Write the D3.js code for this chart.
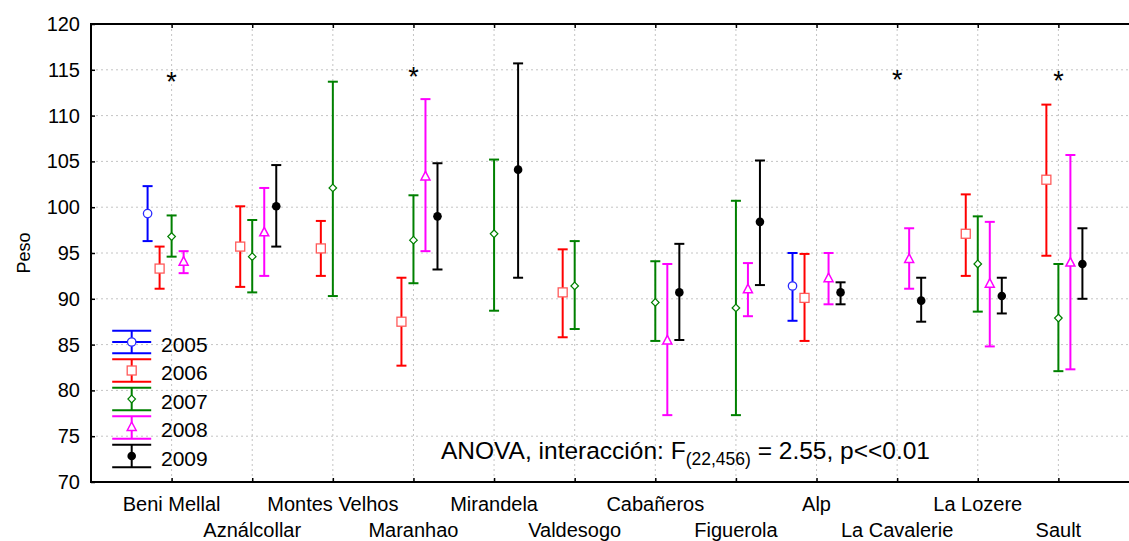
<!DOCTYPE html>
<html>
<head>
<meta charset="utf-8">
<script src="https://cdn.jsdelivr.net/npm/d3@7"></script>
<style>
  html, body { margin: 0; padding: 0; background: #fff; }
  svg { display: block; font-family: "Liberation Sans", Arial, sans-serif; }
</style>
</head>
<body>
<svg id="chart" width="1129" height="541"></svg>
<script>
// ---------- data ----------
const categories = ["Beni Mellal","Aználcollar","Montes Velhos","Maranhao","Mirandela","Valdesogo",
                    "Cabañeros","Figuerola","Alp","La Cavalerie","La Lozere","Sault"];
const years = ["2005","2006","2007","2008","2009"];
const yTicks = [70,75,80,85,90,95,100,105,110,115,120];
// [mean, lower, upper] per category, null where no data
const y2005 = [[99.3,96.3,102.3],null,null,null,null,null,null,null,[91.4,87.6,95.0],null,null,null];
const y2006 = [[93.3,91.1,95.7],[95.7,91.3,100.1],[95.5,92.5,98.5],[87.5,82.7,92.3],null,[90.7,85.8,95.4],
               null,null,[90.1,85.4,94.9],null,[97.1,92.5,101.4],[103.0,94.7,111.2]];
const y2007 = [[96.8,94.6,99.1],[94.6,90.7,98.6],[102.1,90.3,113.7],[96.4,91.7,101.3],[97.1,88.7,105.2],[91.4,86.7,96.3],
               [89.6,85.4,94.1],[89.0,77.3,100.7],null,null,[93.8,88.6,99.0],[87.9,82.1,93.8]];
const y2008 = [[94.0,92.8,95.2],[97.2,92.5,102.1],null,[103.3,95.2,111.8],null,null,
               [85.4,77.3,93.8],[91.0,88.1,93.9],[92.2,89.4,95.0],[94.3,91.1,97.7],[91.6,84.8,98.4],[93.9,82.3,105.7]];
const y2009 = [null,[100.1,95.7,104.6],null,[99.0,93.2,104.8],[104.1,92.3,115.7],null,
               [90.7,85.5,96.0],[98.4,91.5,105.1],[90.7,89.4,91.8],[89.8,87.5,92.3],[90.3,88.4,92.3],[93.8,90.0,97.7]];
const seriesData = [y2005, y2006, y2007, y2008, y2009];
const starCats = [0, 3, 9, 11];
const starVals = [114.3, 114.9, 114.5, 114.4];
const annotation = ["ANOVA, interacción: F", "(22,456)", " = 2.55, p<<0.01"];

// ---------- styles ----------
const colors = ["#0000ff","#ff0000","#008000","#ff00ff","#000000"];
const markerStroke = ["#2a2aff","#ff5a5a","#008000","#ff00ff","#000000"];

const svg = d3.select("#chart");
const W = 1129, H = 541;
svg.append("rect").attr("width", W).attr("height", H).attr("fill", "#fff");

const x = d3.scaleLinear().domain([0, 13]).range([91, 1139]);
const y = d3.scaleLinear().domain([70, 120]).range([482, 24]);
const offset = 0.149;

// grid
const grid = svg.append("g").attr("stroke", "#c4c4c4").attr("stroke-width", 1).attr("stroke-dasharray", "2,3");
grid.selectAll("line.h").data(yTicks.slice(1, -1)).join("line")
  .attr("x1", 91).attr("x2", W).attr("y1", d => y(d)).attr("y2", d => y(d));
grid.selectAll("line.v").data(categories).join("line")
  .attr("x1", (d, i) => x(i + 1)).attr("x2", (d, i) => x(i + 1)).attr("y1", 24).attr("y2", 482);

// axes
const yAxis = d3.axisLeft(y).tickValues(yTicks).tickSize(-4).tickPadding(11);
const gy = svg.append("g").attr("transform", "translate(91,0)").call(yAxis);
gy.select(".domain").remove();
gy.selectAll(".tick line").attr("stroke", "#000").attr("stroke-width", 1.5);
gy.selectAll("text").attr("font-size", 20).attr("fill", "#000").attr("font-family", "Liberation Sans, Arial, sans-serif");

const xAxisB = d3.axisBottom(x).tickValues(d3.range(1, 13)).tickSize(-4).tickFormat("");
const gxb = svg.append("g").attr("transform", "translate(0,482)").call(xAxisB);
gxb.select(".domain").remove();
gxb.selectAll(".tick line").attr("stroke", "#000").attr("stroke-width", 1.5);
const xAxisT = d3.axisTop(x).tickValues(d3.range(1, 13)).tickSize(-4).tickFormat("");
const gxt = svg.append("g").attr("transform", "translate(0,24)").call(xAxisT);
gxt.select(".domain").remove();
gxt.selectAll(".tick line").attr("stroke", "#000").attr("stroke-width", 1.5);

// frame
const frame = svg.append("g").attr("stroke", "#000").attr("stroke-width", 2).attr("fill", "none");
frame.append("path").attr("d", `M${W},24 H91 V482 H${W}`);

// x labels (alternating rows)
svg.append("g").selectAll("text").data(categories).join("text")
  .attr("x", (d, i) => x(i + 1))
  .attr("y", (d, i) => i % 2 === 0 ? 511 : 536.5)
  .attr("text-anchor", "middle").attr("font-size", 20).attr("fill", "#000")
  .text(d => d);

// y label
svg.append("text").attr("transform", "translate(30,253) rotate(-90)")
  .attr("text-anchor", "middle").attr("font-size", 18).attr("fill", "#000").text("Peso");

// markers
function drawMarker(g, k, cx, cy) {
  const s = markerStroke[k];
  if (k === 0) {
    g.append("circle").attr("cx", cx).attr("cy", cy).attr("r", 4.2)
      .attr("fill", "#fff").attr("stroke", s).attr("stroke-width", 1.3);
  } else if (k === 1) {
    g.append("rect").attr("x", cx - 4.5).attr("y", cy - 4.5).attr("width", 9).attr("height", 9)
      .attr("fill", "#fff").attr("stroke", s).attr("stroke-width", 1.3);
  } else if (k === 2) {
    g.append("path").attr("d", `M${cx},${cy - 3.8} L${cx + 3.8},${cy} L${cx},${cy + 3.8} L${cx - 3.8},${cy} Z`)
      .attr("fill", "#fff").attr("stroke", s).attr("stroke-width", 1.2);
  } else if (k === 3) {
    g.append("path").attr("d", `M${cx},${cy - 5.5} L${cx + 4.5},${cy + 3} L${cx - 4.5},${cy + 3} Z`)
      .attr("fill", "#fff").attr("stroke", s).attr("stroke-width", 1.5);
  } else {
    g.append("circle").attr("cx", cx).attr("cy", cy).attr("r", 4.3).attr("fill", "#000");
  }
}

// error bars
const bars = svg.append("g");
seriesData.forEach((arr, k) => {
  arr.forEach((v, i) => {
    if (!v) return;
    const cx = x(i + 1 + (k - 2) * offset);
    const g = bars.append("g").attr("stroke-linecap", "butt");
    g.append("line").attr("x1", cx).attr("x2", cx).attr("y1", y(v[1])).attr("y2", y(v[2]))
      .attr("stroke", colors[k]).attr("stroke-width", 2);
    [v[1], v[2]].forEach(t => {
      g.append("line").attr("x1", cx - 5).attr("x2", cx + 5).attr("y1", y(t)).attr("y2", y(t))
        .attr("stroke", colors[k]).attr("stroke-width", 2);
    });
    drawMarker(g, k, cx, y(v[0]));
  });
});

// stars
svg.append("g").selectAll("text").data(starCats).join("text")
  .attr("x", d => x(d + 1)).attr("y", (d, j) => y(starVals[j]) + 15)
  .attr("text-anchor", "middle").attr("font-size", 27).attr("fill", "#000").text("*");

// legend
const legend = svg.append("g");
const legY0 = 342, legDy = 28.5, legCx = 131.7;
years.forEach((yr, k) => {
  const cy = legY0 + k * legDy;
  const g = legend.append("g");
  g.append("line").attr("x1", legCx).attr("x2", legCx).attr("y1", cy - 11.3).attr("y2", cy + 11.3)
    .attr("stroke", colors[k]).attr("stroke-width", 2);
  const caps = k === 0 ? [-11.3, 0, 11.3] : [-11.3, 11.3];
  caps.forEach(o => {
    g.append("line").attr("x1", legCx - 19.5).attr("x2", legCx + 19.5).attr("y1", cy + o).attr("y2", cy + o)
      .attr("stroke", colors[k]).attr("stroke-width", 2);
  });
  drawMarker(g, k, legCx, cy);
  g.append("text").attr("x", 161).attr("y", cy + 9.5).attr("font-size", 21).attr("fill", "#000").text(yr);
});

// annotation
const ann = svg.append("text").attr("x", 441).attr("y", 459).attr("font-size", 24.5).attr("fill", "#000");
ann.append("tspan").text(annotation[0]);
ann.append("tspan").attr("font-size", 17.5).attr("dy", 6).text(annotation[1]);
ann.append("tspan").attr("dy", -6).text(annotation[2]);
</script>
</body>
</html>
